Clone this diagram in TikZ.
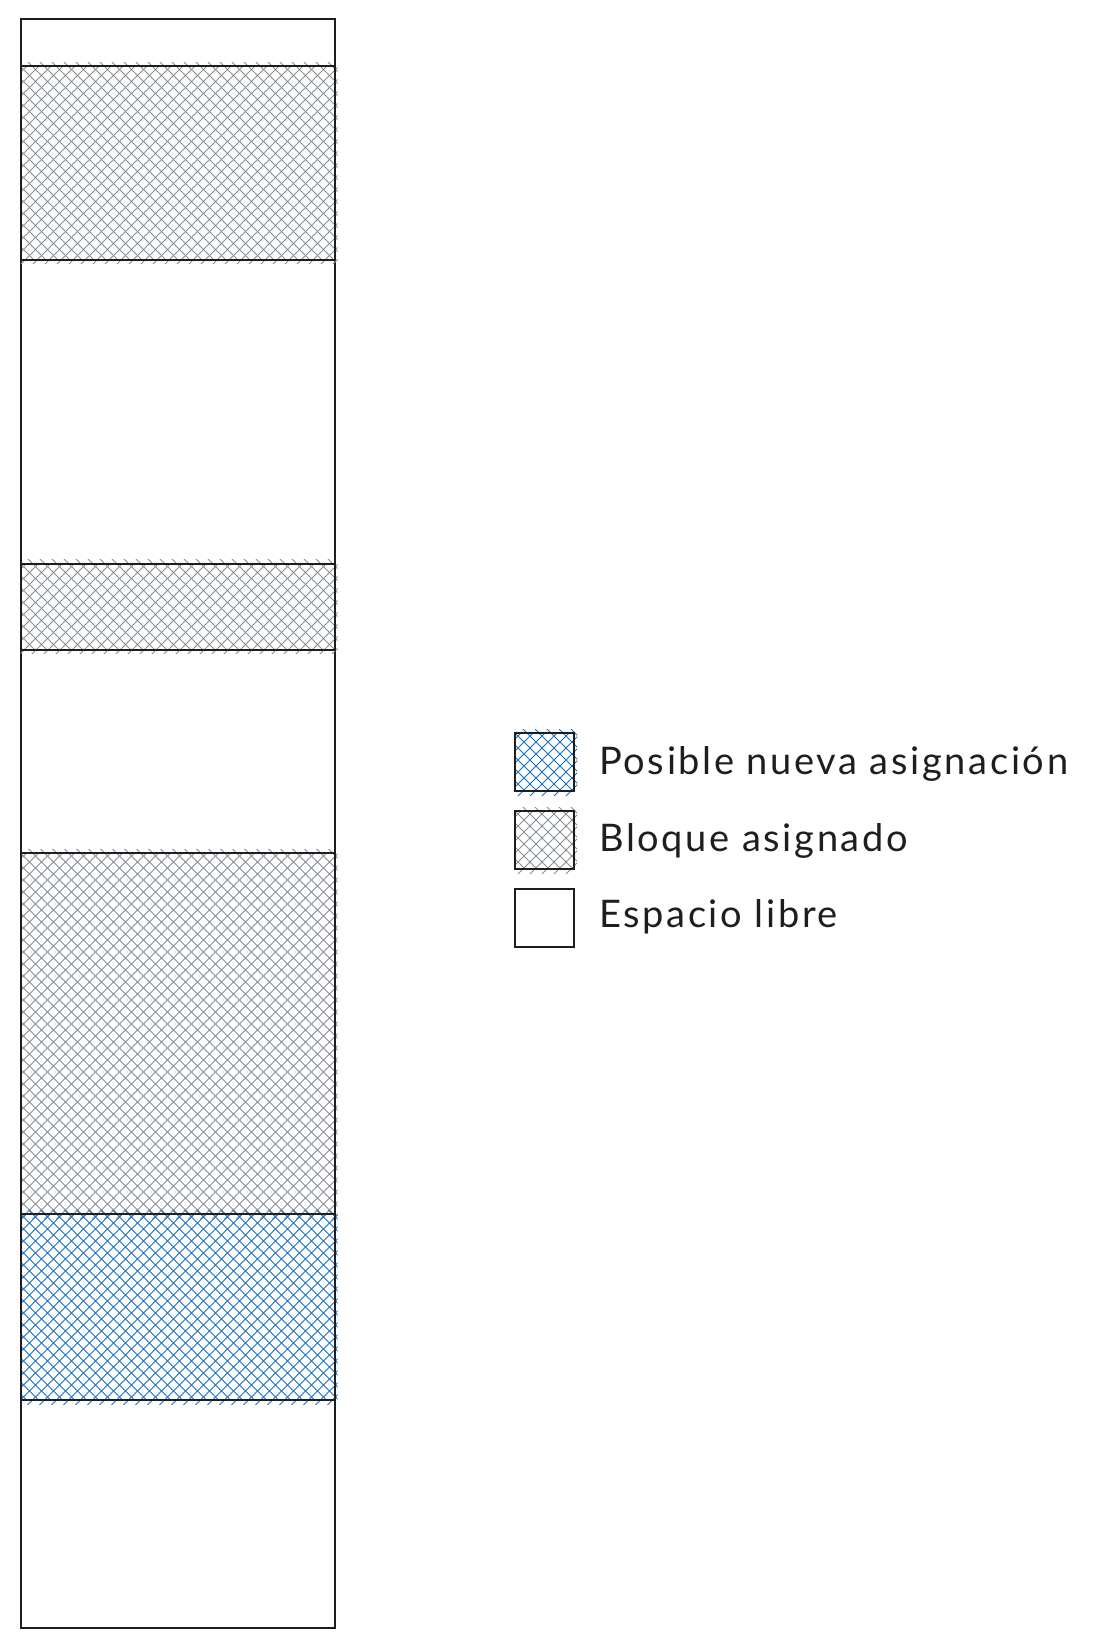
\documentclass[tikz,border=0pt]{standalone}
\usepackage{fontspec}
\setmainfont{Lato}
\newfontfamily\legendfont[LetterSpace=7]{Lato}
\definecolor{ink}{HTML}{1E1E1E}
\definecolor{hgrey}{HTML}{868E96}
\definecolor{hblue}{HTML}{1971C2}
\newcommand\hatchrect[5]{%
  \begin{scope}
    \clip (#1,#2-4) rectangle (#3+3,#4);
    \foreach \k in {-408,-396,...,340}
      \draw[#5,line width=1pt] (#1+\k-10,#2-10) -- (#1+\k+410,#2+410);
  \end{scope}
  \begin{scope}
    \clip (#1,#2) rectangle (#3+3,#4+4);
    \foreach \k in {6,18,...,750}
      \draw[#5,line width=1pt] (#1+\k+10,#2-10) -- (#1+\k-410,#2+410);
  \end{scope}
  \draw[outline] (#1,#2) rectangle (#3,#4);
}
\tikzset{outline/.style={draw=ink,line width=2pt},
  legendtext/.style={anchor=base west,font=\legendfont\fontsize{38}{44}\selectfont,text=ink,inner sep=0pt}}
\begin{document}
\begin{tikzpicture}[x=1pt,y=-1pt]
\useasboundingbox (0,0) rectangle (1092,1648);
\fill[white] (0,0) rectangle (1092,1648);
% memory column
\draw[outline,fill=white] (20.5,19.5) rectangle (334.5,1628);
\hatchrect{20.5}{66.5}{334.5}{259.5}{hgrey}
\hatchrect{20.5}{563.5}{334.5}{649.5}{hgrey}
\hatchrect{20.5}{853}{334.5}{1214}{hgrey}
\hatchrect{20.5}{1214}{334.5}{1400}{hblue}
% legend
\hatchrect{515}{733}{574}{791}{hblue}
\hatchrect{515}{811}{574}{869}{hgrey}
\draw[outline,fill=white] (515,889) rectangle (574,947);
\node[legendtext] (l1) at (599,774) {Posible nueva asignación};
\node[legendtext] (l2) at (599,851) {Bloque asignado};
\node[legendtext] (l3) at (599,927) {Espacio libre};
\end{tikzpicture}
\end{document}
